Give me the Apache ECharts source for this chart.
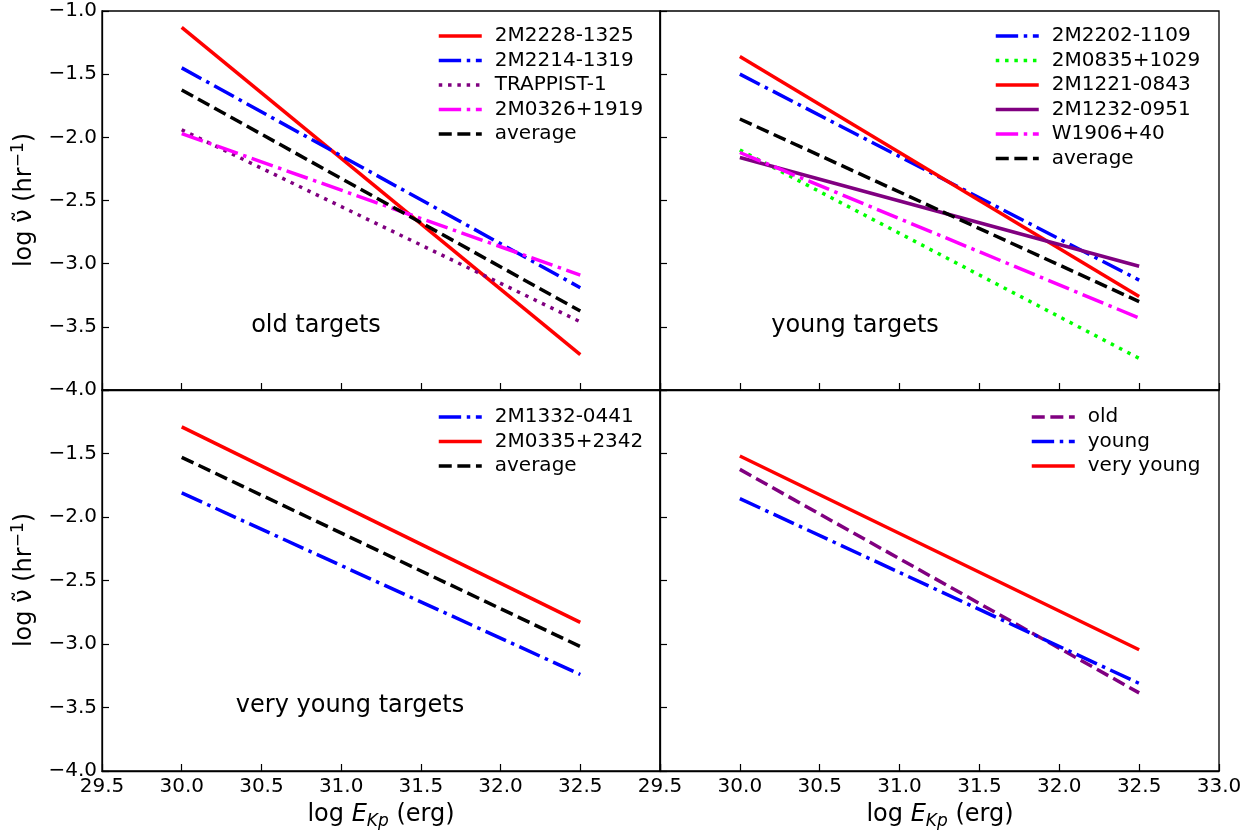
<!DOCTYPE html>
<html>
<head>
<meta charset="utf-8">
<script src="https://cdn.jsdelivr.net/npm/echarts@6/dist/echarts.min.js"></script>
<style>
html,body{margin:0;padding:0;background:#fff;}
#chart{width:1259px;height:833px;}
</style>
</head>
<body>
<div id="chart"></div>
<script>
// ---- data ----
const xEnds = [30.0, 32.5];
const xTicks = [29.5, 30.0, 30.5, 31.0, 31.5, 32.0, 32.5, 33.0];
const yTicks = [-4.0, -3.5, -3.0, -2.5, -2.0, -1.5, -1.0];

// old targets
const oldNames = ['2M2228-1325', '2M2214-1319', 'TRAPPIST-1', '2M0326+1919', 'average'];
const old_2M2228 = [-1.13, -3.72];
const old_2M2214 = [-1.45, -3.19];
const old_TRAPPIST1 = [-1.94, -3.46];
const old_2M0326 = [-1.97, -3.09];
const old_avg = [-1.625, -3.375];

// young targets
const youngNames = ['2M2202-1109', '2M0835+1029', '2M1221-0843', '2M1232-0951', 'W1906+40', 'average'];
const young_2M2202 = [-1.50, -3.13];
const young_2M0835 = [-2.10, -3.75];
const young_2M1221 = [-1.36, -3.26];
const young_2M1232 = [-2.16, -3.02];
const young_W1906 = [-2.12, -3.43];
const young_avg = [-1.855, -3.30];

// very young targets
const vyNames = ['2M1332-0441', '2M0335+2342', 'average'];
const vy_2M1332 = [-1.81, -3.24];
const vy_2M0335 = [-1.29, -2.83];
const vy_avg = [-1.53, -3.02];

// summary
const sumNames = ['old', 'young', 'very young'];
const sum_old = [-1.625, -3.385];
const sum_young = [-1.855, -3.31];
const sum_vyoung = [-1.52, -3.045];

// ---- styles ----
const LW = 3.5;
const SOLID = 'solid';
const DASHED = [13, 5.6];
const DASHDOT = [22.4, 5.6, 3.5, 5.6];
const DOTTED = [3.5, 5.8];
const FONT = 'DejaVu Sans';

function mk(name, vals, color, type, g) {
  return {
    type: 'line', name: name,
    data: xEnds.map((x, i) => [x, vals[i]]),
    xAxisIndex: g, yAxisIndex: g,
    symbol: 'none', silent: true, animation: false,
    lineStyle: { color: color, width: LW, type: type, cap: 'butt' },
    itemStyle: { color: color }
  };
}

const series = [
  mk('2M2228-1325', old_2M2228, '#ff0000', SOLID, 0),
  mk('2M2214-1319', old_2M2214, '#0000ff', DASHDOT, 0),
  mk('TRAPPIST-1', old_TRAPPIST1, '#800080', DOTTED, 0),
  mk('2M0326+1919', old_2M0326, '#ff00ff', DASHDOT, 0),
  mk('average', old_avg, '#000000', DASHED, 0),

  mk('2M2202-1109', young_2M2202, '#0000ff', DASHDOT, 1),
  mk('2M0835+1029', young_2M0835, '#00ff00', DOTTED, 1),
  mk('2M1221-0843', young_2M1221, '#ff0000', SOLID, 1),
  mk('2M1232-0951', young_2M1232, '#800080', SOLID, 1),
  mk('W1906+40', young_W1906, '#ff00ff', DASHDOT, 1),
  mk('average', young_avg, '#000000', DASHED, 1),

  mk('2M1332-0441', vy_2M1332, '#0000ff', DASHDOT, 2),
  mk('2M0335+2342', vy_2M0335, '#ff0000', SOLID, 2),
  mk('average', vy_avg, '#000000', DASHED, 2),

  mk('old', sum_old, '#800080', DASHED, 3),
  mk('young', sum_young, '#0000ff', DASHDOT, 3),
  mk('very young', sum_vyoung, '#ff0000', SOLID, 3)
];

const grids = [
  { left: 102, top: 11, width: 558, height: 379 },
  { left: 660, top: 11, width: 559, height: 379 },
  { left: 102, top: 390, width: 558, height: 381 },
  { left: 660, top: 390, width: 559, height: 381 }
].map(g => Object.assign(g, { show: true, borderColor: '#000', borderWidth: 1.3, backgroundColor: 'transparent' }));

function fmt(v) { return v.toFixed(1).replace('-', '\u2212'); }

const xAxes = [0, 1, 2, 3].map(i => ({
  gridIndex: i, type: 'value', min: xTicks[0], max: xTicks[xTicks.length - 1], interval: 0.5,
  axisLine: { lineStyle: { color: '#000', width: 1.3 } },
  axisTick: { inside: true, length: 7, lineStyle: { color: '#000', width: 1.2 } },
  splitLine: { show: false },
  axisLabel: {
    show: i >= 2, color: '#000', fontSize: 20, fontFamily: FONT, margin: 6,
    formatter: v => (i === 2 && Math.abs(v - 33) < 1e-6) ? '' : fmt(v)
  }
}));

const yAxes = [0, 1, 2, 3].map(i => ({
  gridIndex: i, type: 'value', min: yTicks[0], max: yTicks[yTicks.length - 1], interval: 0.5,
  axisLine: { lineStyle: { color: '#000', width: 1.3 } },
  axisTick: { inside: true, length: 7, lineStyle: { color: '#000', width: 1.2 } },
  splitLine: { show: false },
  axisLabel: {
    show: i === 0 || i === 2, color: '#000', fontSize: 20, fontFamily: FONT, margin: 5,
    formatter: v => (i === 2 && Math.abs(v + 1) < 1e-6) ? '' : fmt(v)
  }
}));

function leg(names, left, top) {
  return {
    data: names, left: left, top: top, orient: 'vertical', padding: 0,
    itemWidth: 43, itemHeight: 14, itemGap: 4.5, selectedMode: false,
    itemStyle: { opacity: 0 },
    lineStyle: { width: LW },
    textStyle: { color: '#000', fontSize: 20, fontFamily: FONT, lineHeight: 20, padding: [0, 0, 0, 8] }
  };
}

const legends = [
  leg(oldNames, 437, 26),
  leg(youngNames, 994, 26),
  leg(vyNames, 437, 407),
  leg(sumNames, 1030, 407)
];

function label(text, x, y) {
  return { type: 'text', x: x, y: y, silent: true,
    style: { text: text, fill: '#000', font: '24px "DejaVu Sans"', align: 'center', verticalAlign: 'middle' } };
}
function xTitle(x, y) {
  return { type: 'text', x: x, y: y, silent: true,
    style: {
      text: '{n|log }{i|E}{s|Kp}{n| (erg)}', fill: '#000', align: 'center', verticalAlign: 'middle',
      rich: {
        n: { fontSize: 24, fontFamily: FONT, lineHeight: 30, verticalAlign: 'middle' },
        i: { fontSize: 24, fontFamily: FONT, fontStyle: 'italic', lineHeight: 30, verticalAlign: 'middle' },
        s: { fontSize: 17, fontFamily: FONT, fontStyle: 'italic', lineHeight: 30, verticalAlign: 'bottom' }
      }
    } };
}
function yTitle(x, y) {
  return { type: 'text', x: x, y: y, rotation: Math.PI / 2, silent: true,
    style: {
      text: '{n|log \u03BD\u0303 (hr}{s|\u22121}{n|)}', fill: '#000', align: 'center', verticalAlign: 'middle',
      rich: {
        n: { fontSize: 24, fontFamily: FONT, lineHeight: 30, verticalAlign: 'middle' },
        s: { fontSize: 17, fontFamily: FONT, lineHeight: 30, verticalAlign: 'top' }
      }
    } };
}

const chart = echarts.init(document.getElementById('chart'), null, { renderer: 'canvas' });
chart.setOption({
  backgroundColor: '#fff',
  animation: false,
  grid: grids,
  xAxis: xAxes,
  yAxis: yAxes,
  legend: legends,
  series: series,
  graphic: [
    label('old targets', 316, 326),
    label('young targets', 855, 326),
    label('very young targets', 350, 706),
    xTitle(381, 815),
    xTitle(940, 815),
    yTitle(25, 200),
    yTitle(25, 580)
  ]
});
</script>
</body>
</html>
